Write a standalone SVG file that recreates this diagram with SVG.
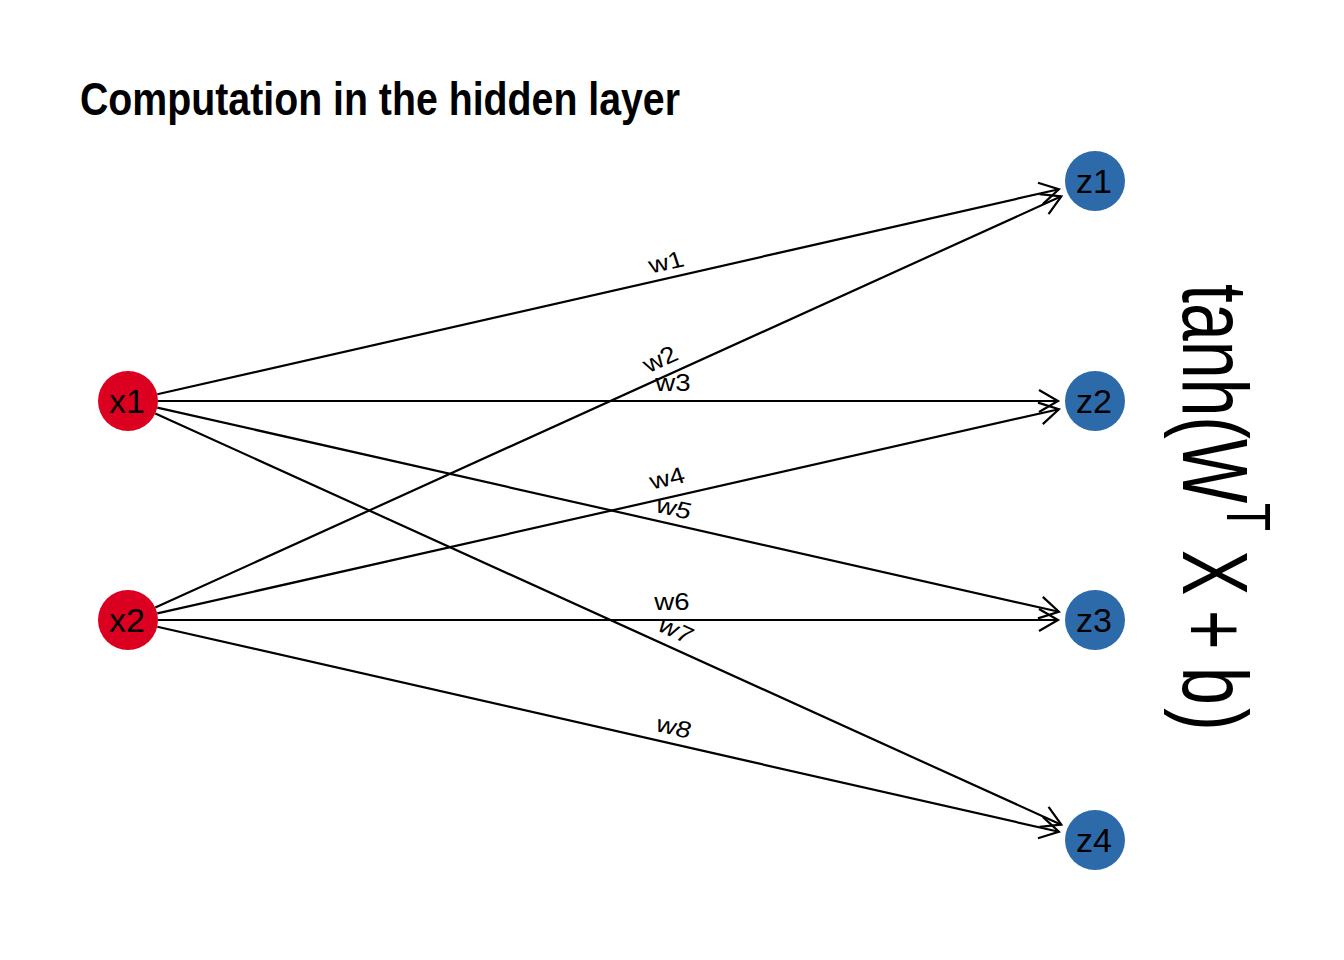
<svg xmlns="http://www.w3.org/2000/svg" width="1344" height="960" viewBox="0 0 1344 960">
<defs>
<style>
.edge{stroke:#000;stroke-width:2.2;fill:none;marker-end:url(#arr)}
.lbl{font-family:"Liberation Sans",Arial,sans-serif;font-size:23px;text-anchor:middle;fill:#000}
.nl{font-family:"Liberation Sans",Arial,sans-serif;font-size:34px;text-anchor:middle;fill:#000}
.in{fill:#DB0020}
.hid{fill:#2D6AAA}
</style>
<marker id="arr" markerUnits="userSpaceOnUse" markerWidth="40" markerHeight="40" refX="0" refY="0" viewBox="-20 -20 40 40" orient="auto" overflow="visible">
<path d="M-19,-11 L0,0 L-19,11" fill="none" stroke="#000" stroke-width="2.2"/>
</marker>
</defs>
<rect width="1344" height="960" fill="#fff"/>
<text x="80" y="115" font-family="'Liberation Sans',Arial,sans-serif" font-weight="bold" font-size="46" textLength="600" lengthAdjust="spacingAndGlyphs">Computation in the hidden layer</text>
<g id="connectors">
<line class="edge" x1="157.3" y1="394.3" x2="1058.9" y2="189.2"/>
<line class="edge" x1="155.3" y1="607.6" x2="1061.3" y2="196.3"/>
<line class="edge" x1="158" y1="401" x2="1058" y2="401"/>
<line class="edge" x1="157.3" y1="613.4" x2="1058.9" y2="409.2"/>
<line class="edge" x1="157.3" y1="407.6" x2="1058.9" y2="611.8"/>
<line class="edge" x1="158" y1="620" x2="1058" y2="620"/>
<line class="edge" x1="155.3" y1="413.4" x2="1061.3" y2="824.7"/>
<line class="edge" x1="157.3" y1="626.7" x2="1058.9" y2="831.8"/>
<g id="edge-labels">
<text class="lbl" transform="translate(666,262) scale(1.2,1) rotate(-15.3)" dy="8">w1</text>
<text class="lbl" transform="translate(660,359) scale(1.2,1) rotate(-28.6)" dy="8">w2</text>
<text class="lbl" transform="translate(673,383) scale(1.2,1)" dy="8">w3</text>
<text class="lbl" transform="translate(667,478) scale(1.2,1) rotate(-15.2)" dy="8">w4</text>
<text class="lbl" transform="translate(674,508) scale(1.2,1) rotate(15.2)" dy="8">w5</text>
<text class="lbl" transform="translate(672,602) scale(1.2,1)" dy="8">w6</text>
<text class="lbl" transform="translate(676,630) scale(1.2,1) rotate(28.6)" dy="8">w7</text>
<text class="lbl" transform="translate(674,727) scale(1.2,1) rotate(15.3)" dy="8">w8</text>
</g>
</g>
<g id="x1"><circle class="in" cx="128" cy="401" r="30"/><text class="nl" x="127" y="413">x1</text></g>
<g id="x2"><circle class="in" cx="128" cy="620" r="30"/><text class="nl" x="127" y="632">x2</text></g>
<g id="z1"><circle class="hid" cx="1095" cy="181" r="30"/><text class="nl" x="1094" y="193">z1</text></g>
<g id="z2"><circle class="hid" cx="1095" cy="401" r="30"/><text class="nl" x="1094" y="413">z2</text></g>
<g id="z3"><circle class="hid" cx="1095" cy="620" r="30"/><text class="nl" x="1094" y="632">z3</text></g>
<g id="z4"><circle class="hid" cx="1095" cy="840" r="30"/><text class="nl" x="1094" y="852">z4</text></g>
<g id="formula" transform="translate(1183,280) rotate(90) scale(1,1.35)" font-family="'Liberation Sans',Arial,sans-serif" fill="#000">
<text font-size="68"><tspan x="4" y="0">tanh(W</tspan><tspan x="223" y="-32.6" font-size="46">T</tspan><tspan x="270" y="0">X</tspan><tspan x="330" y="0">+</tspan><tspan x="387" y="0">b</tspan><tspan x="428" y="0">)</tspan></text>
</g>
</svg>
